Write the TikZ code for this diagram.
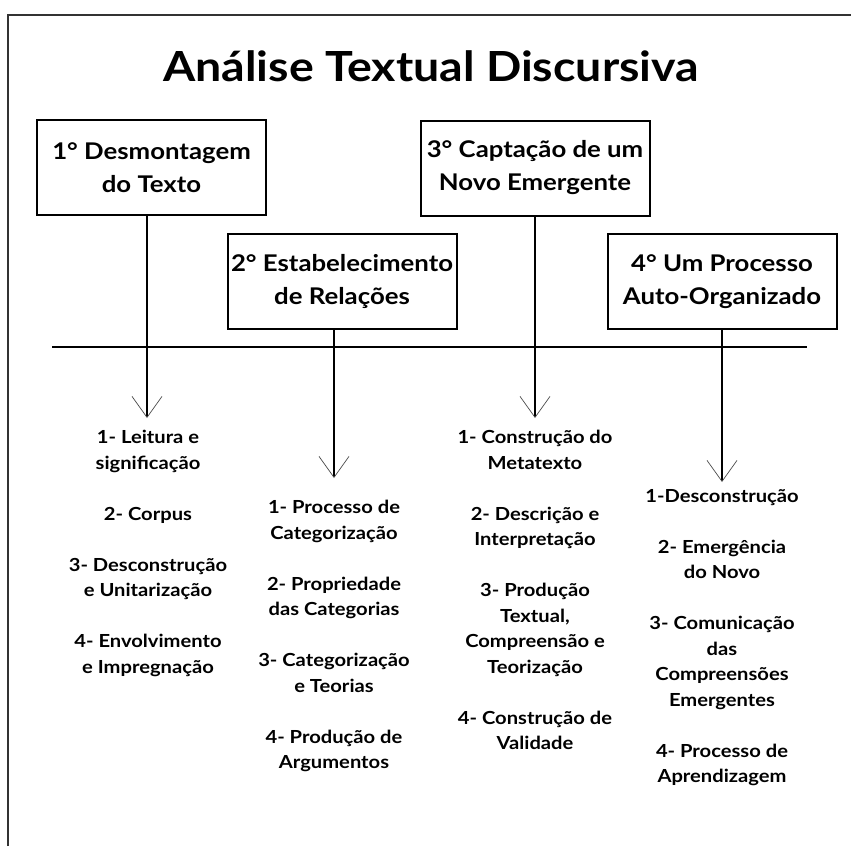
\documentclass[tikz,border=0pt]{standalone}
\usepackage{fontspec}
\setmainfont{Lato}[FakeStretch=1.12]
\usepackage{tikz}
\usetikzlibrary{positioning,arrows.meta,calc}

\tikzset{
  stage/.style={draw, line width=2pt, minimum width=229pt, minimum height=95pt,
    align=center, inner sep=0pt, font=\fontsize{23}{33}\selectfont\bfseries},
  items/.style={align=center, anchor=north, inner sep=0pt,
    font=\fontsize{18}{25.5}\selectfont\bfseries},
  down/.style={line width=2pt,
    -{Straight Barb[length=21pt,width=30pt,line width=0.7pt,color=black!70]}}
}

\begin{document}
\begin{tikzpicture}[x=1pt,y=-1pt]
\useasboundingbox (0,0) rectangle (851,846);
% moldura
\draw[line width=2pt, black!80] (8,846) -- (8,15) -- (851,15);
\node[font=\fontsize{41.5}{44}\selectfont\bfseries] (titulo) at (431,66) {Análise Textual Discursiva};

% etapas
\node[stage] (etapa1) at (151.5,167.5) {1° Desmontagem\\do Texto};
\node[stage] (etapa2) at (342,281) {2° Estabelecimento\\de Relações};
\node[stage] (etapa3) at (535,168) {3° Captação de um\\Novo Emergente};
\node[stage] (etapa4) at (722,281.5) {4° Um Processo\\Auto-Organizado};

\draw[line width=2.5pt] (52,347) -- (807,347);

\coordinate (p1) at (147,418);
\coordinate (p2) at (334,478);
\coordinate (p3) at (535,418);
\coordinate (p4) at (722,482);
\draw[down] (p1 |- etapa1.south) -- (p1);
\draw[down] (p2 |- etapa2.south) -- (p2);
\draw[down] (p3 |- etapa3.south) -- (p3);
\draw[down] (p4 |- etapa4.south) -- (p4);

% itens
\node[items] (lista1) at (148,430) {1- Leitura e\\significação\\[25.5pt]2- Corpus\\[25.5pt]3- Desconstrução\\e Unitarização\\[25.5pt]4- Envolvimento\\e Impregnação};
\node[items] (lista2) at (334,500) {1- Processo de\\Categorização\\[25.5pt]2- Propriedade\\das Categorias\\[25.5pt]3- Categorização\\e Teorias\\[25.5pt]4- Produção de\\Argumentos};
\node[items] (lista3) at (535,430) {1- Construção do\\Metatexto\\[25.5pt]2- Descrição e\\Interpretação\\[25.5pt]3- Produção\\Textual,\\Compreensão e\\Teorização\\[25.5pt]4- Construção de\\Validade};
\node[items] (lista4) at (722,489) {1-Desconstrução\\[25.5pt]2- Emergência\\do Novo\\[25.5pt]3- Comunicação\\das\\Compreensões\\Emergentes\\[25.5pt]4- Processo de\\Aprendizagem};
\end{tikzpicture}
\end{document}
